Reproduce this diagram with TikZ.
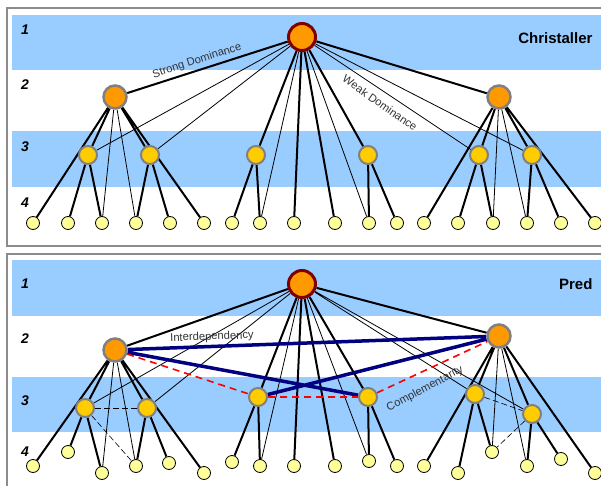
\documentclass[tikz,border=0pt]{standalone}
\usepackage{fontspec}
\setmainfont{Liberation Sans}
\usetikzlibrary{positioning}
\definecolor{bandblue}{RGB}{153,204,255}
\definecolor{framegray}{RGB}{140,140,140}
\definecolor{rimgray}{RGB}{128,128,128}
\definecolor{rootred}{RGB}{128,0,0}
\definecolor{huborange}{RGB}{255,153,0}
\definecolor{subyellow}{RGB}{255,204,0}
\definecolor{leafyellow}{RGB}{255,255,153}
\definecolor{linknavy}{RGB}{0,0,128}
\pgfdeclarelayer{bg}
\pgfdeclarelayer{edges}
\pgfsetlayers{bg,edges,main}

\begin{document}
\begin{tikzpicture}[x=1pt, y=-1pt,
rootnode/.style={circle, draw=rootred, line width=3pt, fill=huborange, minimum size=27pt, inner sep=0pt},
hubnode/.style={circle, draw=rimgray, line width=2.5pt, fill=huborange, minimum size=23pt, inner sep=0pt},
subnode/.style={circle, draw=rimgray, line width=2pt, fill=subyellow, minimum size=18pt, inner sep=0pt},
leafnode/.style={circle, draw=black, line width=0.8pt, fill=leafyellow, minimum size=13pt, inner sep=0pt},
rowlabel/.style={font=\fontsize{14}{14}\selectfont\bfseries\itshape},
paneltitle/.style={font=\fontsize{15}{15}\selectfont\bfseries, anchor=east},
edgetag/.style={font=\fontsize{11.2}{12}\selectfont, text=black!80, inner sep=1pt},
strongedge/.style={line width=2pt},
weakedge/.style={line width=0.8pt},
interlink/.style={draw=linknavy, line width=3.5pt},
complink/.style={draw=red, line width=1.6pt, dash pattern=on 7pt off 5pt},
sidelink/.style={line width=0.9pt, dash pattern=on 6pt off 3pt}]

  \useasboundingbox (0,0) rectangle (601,486);

  % panels and bands
  \begin{pgfonlayer}{bg}
    \fill[white] (0,0) rectangle (601,486);
    \fill[bandblue] (12,15) rectangle (601,70);
    \fill[bandblue] (12,131) rectangle (601,187);
    \fill[bandblue] (12,260) rectangle (601,316);
    \fill[bandblue] (12,377) rectangle (601,432);
    \draw[framegray, line width=2pt] (601,8) -- (7,8) -- (7,246) -- (601,246);
    \draw[framegray, line width=2pt] (601,254) -- (7,254) -- (7,486);
  \end{pgfonlayer}

  \node[rowlabel] (tn1) at (25,30) {1};
  \node[rowlabel] (tn2) at (25,85) {2};
  \node[rowlabel] (tn3) at (25,147) {3};
  \node[rowlabel] (tn4) at (25,203) {4};
  \node[rowlabel] (bn1) at (25,284) {1};
  \node[rowlabel] (bn2) at (25,339) {2};
  \node[rowlabel] (bn3) at (25,401) {3};
  \node[rowlabel] (bn4) at (25,452) {4};
  \node[paneltitle] (christaller) at (596,38) {Christaller};
  \node[paneltitle] (pred) at (596,284) {Pred};

  % Christaller
  \node[rootnode] (t1) at (302,37) {};
  \node[hubnode] (t2l) at (115,97) {};
  \node[hubnode] (t2r) at (499,97) {};
  \node[subnode] (t3a) at (88,155) {};
  \node[subnode] (t3b) at (150,155) {};
  \node[subnode] (t3c) at (256,155) {};
  \node[subnode] (t3d) at (368,155) {};
  \node[subnode] (t3e) at (479,155) {};
  \node[subnode] (t3f) at (532,155) {};
  \node[leafnode] (t4a) at (33,223) {};  \node[leafnode] (t4b) at (68,223) {};
  \node[leafnode] (t4c) at (102,223) {}; \node[leafnode] (t4d) at (136,223) {};
  \node[leafnode] (t4e) at (170,223) {}; \node[leafnode] (t4f) at (204,223) {};
  \node[leafnode] (t4g) at (232,223) {}; \node[leafnode] (t4h) at (260,223) {};
  \node[leafnode] (t4i) at (294,223) {}; \node[leafnode] (t4j) at (335,223) {};
  \node[leafnode] (t4k) at (369,223) {}; \node[leafnode] (t4l) at (397,223) {};
  \node[leafnode] (t4m) at (424,223) {}; \node[leafnode] (t4n) at (458,223) {};
  \node[leafnode] (t4o) at (493,223) {}; \node[leafnode] (t4p) at (527,223) {};
  \node[leafnode] (t4q) at (561,223) {}; \node[leafnode] (t4r) at (595,223) {};

  \node[edgetag, rotate=18] (strong) at (197,61) {Strong Dominance};
  \node[edgetag, rotate=-35] (weak) at (380,103) {Weak Dominance};

  \begin{pgfonlayer}{edges}
    \draw[strongedge] (t1) -- (t2l) (t1) -- (t2r) (t1) -- (t3c) (t1) -- (t4i) (t1) -- (t4j) (t1) -- (t3d);
    \draw[strongedge] (t2l) -- (t4a) (t2l) -- (t3a) (t2l) -- (t3b) (t2l) -- (t4f);
    \draw[strongedge] (t2r) -- (t4m) (t2r) -- (t3e) (t2r) -- (t3f) (t2r) -- (t4r);
    \draw[strongedge] (t3a) -- (t4b) (t3a) -- (t4c) (t3b) -- (t4d) (t3b) -- (t4e);
    \draw[strongedge] (t3c) -- (t4g) (t3c) -- (t4h) (t3d) -- (t4k) (t3d) -- (t4l);
    \draw[strongedge] (t3e) -- (t4n) (t3e) -- (t4o) (t3f) -- (t4p) (t3f) -- (t4q);
    \draw[weakedge] (t1) -- (t3a) (t1) -- (t3b) (t1) -- (t4h) (t1) -- (t4k) (t1) -- (t3e) (t1) -- (t3f);
    \draw[weakedge] (t2l) -- (t4c) (t2l) -- (t4d) (t2r) -- (t4o) (t2r) -- (t4p);
  \end{pgfonlayer}

  % Pred
  \node[rootnode] (b1) at (302,284) {};
  \node[hubnode] (b2l) at (115,350) {};
  \node[hubnode] (b2r) at (499,336) {};
  \node[subnode] (b3a) at (85,408) {};
  \node[subnode] (b3b) at (147,408) {};
  \node[subnode] (b3c) at (258,397) {};
  \node[subnode] (b3d) at (368,397) {};
  \node[subnode] (b3e) at (475,394) {};
  \node[subnode] (b3f) at (532,414) {};
  \node[leafnode] (b4a) at (33,466) {};  \node[leafnode] (b4b) at (68,452) {};
  \node[leafnode] (b4c) at (102,473) {}; \node[leafnode] (b4d) at (136,466) {};
  \node[leafnode] (b4e) at (169,463) {}; \node[leafnode] (b4f) at (204,473) {};
  \node[leafnode] (b4g) at (232,462) {}; \node[leafnode] (b4h) at (260,466) {};
  \node[leafnode] (b4i) at (294,466) {}; \node[leafnode] (b4j) at (335,466) {};
  \node[leafnode] (b4k) at (369,461) {}; \node[leafnode] (b4l) at (397,466) {};
  \node[leafnode] (b4m) at (424,466) {}; \node[leafnode] (b4n) at (458,473) {};
  \node[leafnode] (b4o) at (492,452) {}; \node[leafnode] (b4p) at (527,466) {};
  \node[leafnode] (b4q) at (561,459) {}; \node[leafnode] (b4r) at (595,473) {};

  \node[edgetag, rotate=2] (inter) at (212,337) {Interdependency};
  \node[edgetag, rotate=28] (compl) at (425,389) {Complementarity};

  \begin{pgfonlayer}{edges}
    \draw[strongedge] (b1) -- (b2l) (b1) -- (b2r) (b1) -- (b3c) (b1) -- (b4i) (b1) -- (b4j) (b1) -- (b3d);
    \draw[strongedge] (b2l) -- (b4a) (b2l) -- (b3a) (b2l) -- (b3b) (b2l) -- (b4f);
    \draw[strongedge] (b2r) -- (b4m) (b2r) -- (b3e) (b2r) -- (b3f) (b2r) -- (b4r);
    \draw[strongedge] (b3a) -- (b4b) (b3a) -- (b4c) (b3b) -- (b4d) (b3b) -- (b4e);
    \draw[strongedge] (b3c) -- (b4g) (b3c) -- (b4h) (b3d) -- (b4k) (b3d) -- (b4l);
    \draw[strongedge] (b3e) -- (b4n) (b3e) -- (b4o) (b3f) -- (b4p) (b3f) -- (b4q);
    \draw[weakedge] (b1) -- (b3a) (b1) -- (b3b) (b1) -- (b4h) (b1) -- (b4k) (b1) -- (b3e) (b1) -- (b3f);
    \draw[weakedge] (b2l) -- (b4c) (b2l) -- (b4d) (b2r) -- (b4o) (b2r) -- (b4p);
    \draw[sidelink] (b3a) -- (b3b);
    \draw[sidelink, line width=0.6pt] (b3a) -- (b4d) (b3e) -- (b3f) (b3f) -- (b4o);
    \draw[interlink] (b2l) -- (b2r) (b2l) -- (b3d) (b3c) -- (b2r);
    \draw[complink] (b2l) -- (b3c) -- (b3d) -- (b2r);
  \end{pgfonlayer}

\end{tikzpicture}
\end{document}
